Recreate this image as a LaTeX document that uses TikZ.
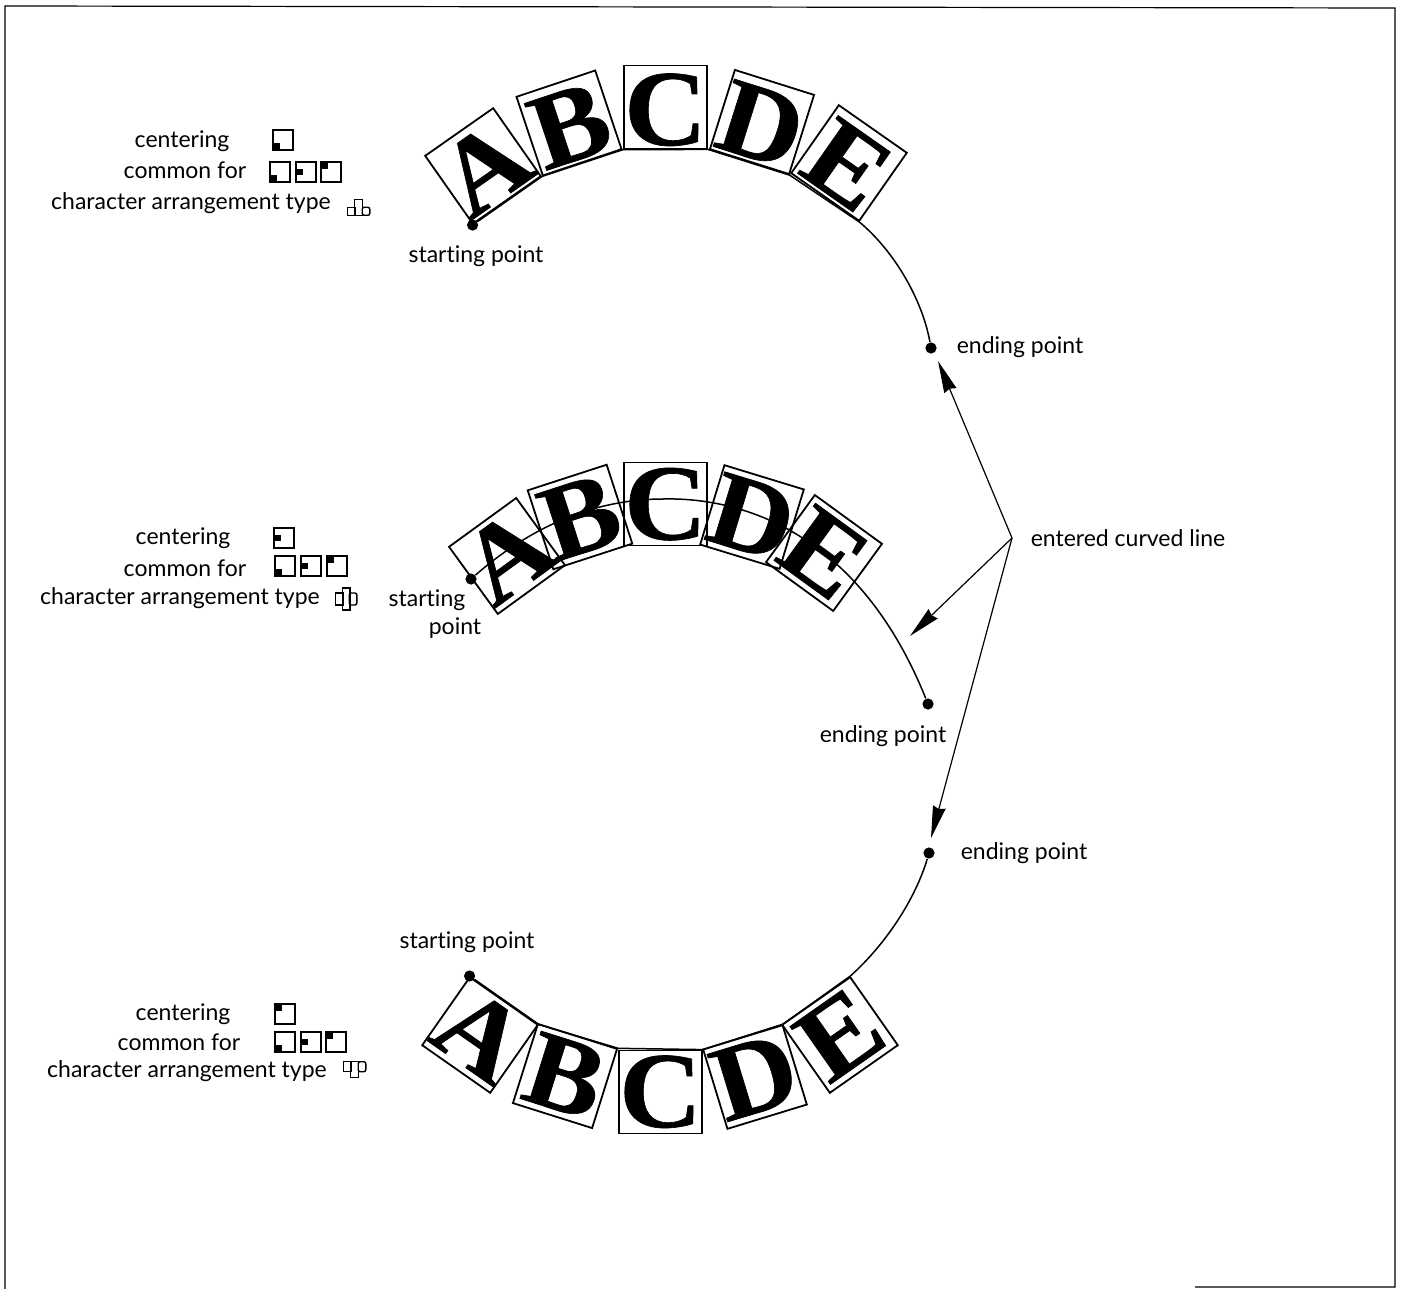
\documentclass[tikz,border=0pt]{standalone}
\usepackage{fontspec}
\setmainfont{Lato}[Ligatures=NoCommon]
\newfontfamily\lettfont{Liberation Serif}[BoldFeatures={FakeBold=0.6,FakeStretch=1.06}]
\usetikzlibrary{arrows.meta,positioning}
\newcommand{\letr}[2]{\raisebox{#1}[0pt][0pt]{#2}}
\tikzset{
  lettbox/.style={draw,line width=0.9pt,minimum size=41.5pt,inner sep=0pt,font=\lettfont\bfseries\fontsize{54}{54}\selectfont},
  lbl/.style={font=\fontsize{11.5}{13}\selectfont,anchor=base,inner sep=0pt},
  dotn/.style={circle,fill=black,inner sep=0pt,minimum size=5.6pt},
  curv/.style={line width=0.75pt},
  arr/.style={-{Stealth[length=16pt,width=6.5pt,inset=1pt]},line width=0.6pt},
  frm/.style={line width=0.6pt},
  mbox/.style={draw,line width=0.6pt,minimum size=10pt,inner sep=0pt},
  mrk/.style={fill=black,inner sep=0pt,minimum size=3.4pt},
  abox/.style={draw,line width=0.7pt,inner sep=0pt,minimum width=3.8pt},
}
\begin{document}
\begin{tikzpicture}[x=0.5pt,y=-0.5pt]
\useasboundingbox (0,0) rectangle (1402,1289);
% frame
\draw[frm] (5,1289) -- (5,6) -- (1395,8) -- (1395,1287) -- (1195,1287);
% top group
\foreach \nm/\lt/\px/\py/\ang in {a/A/483/166/35,b/B/569/123/18.5,c/C/665.5/107/0,d/D/762/122/-17.5,e/E/849/163/-35}
  \node[lettbox,rotate=\ang] (t\nm) at (\px,\py) {\letr{-19pt}{\lt}};
\node[dotn] (tstart) at (ta.south west) {};
\node[dotn] (tend) at (931,348) {};
\draw[curv] (tstart) -- (ta.south east) -- (tb.south east) -- (tc.south east) -- (td.south east) -- (te.south east) .. controls (893,250) and (922,298) .. (tend);
\node[lbl] (tstl) at (476,263) {starting point};
\node[lbl] (tenl) at (1020,353) {ending point};
% middle group
\foreach \nm/\lt/\px/\py/\ang in {a/A/507/556/36,b/B/580/517/18,c/C/665.5/504/0,d/D/752/517/-17,e/E/824/553/-36}
  \node[lettbox,rotate=\ang] (m\nm) at (\px,\py) {\letr{-17.7pt}{\lt}};
\node[dotn] (mstart) at (471,579) {};
\node[dotn] (mend) at (928,704) {};
\draw[curv] (mstart) .. controls (550,510) and (620,499) .. (663,499) .. controls (745,497) and (860,535) .. (mend);
\node[lbl] (mstl) at (427,606) {starting};
\node[lbl] (mstm) at (455,634) {point};
\node[lbl] (menl) at (883,742) {ending point};
% bottom group
\foreach \nm/\lt/\px/\py/\ang in {a/A/480/1035/-35,b/B/565/1076/-17.5,c/C/660.5/1092/0,d/D/755/1077/17,e/E/840/1035/35}
  \node[lettbox,rotate=\ang] (b\nm) at (\px,\py) {\letr{-17.5pt}{\lt}};
\node[dotn] (bstart) at (ba.north west) {};
\node[dotn] (bend) at (929,853) {};
\draw[curv] (bstart) -- (ba.north east) -- (bb.north east) -- (bc.north east) -- (bd.north east) -- (be.north east) .. controls (885,945) and (915,900) .. (bend);
\node[lbl] (bstl) at (467,948) {starting point};
\node[lbl] (benl) at (1024,859) {ending point};
% arrows
\node[lbl] (curl) at (1128,546) {entered curved line};
\coordinate (hub) at (1012,538);
\coordinate (tipa) at (938,361);
\coordinate (tipb) at (910,636);
\coordinate (tipc) at (931,838);
\draw[arr] (hub) -- (tipa);
\draw[arr] (hub) -- (tipb);
\draw[arr] (hub) -- (tipc);
% left legends
\node[lbl] (tl1) at (182,148) {centering};
\node[lbl] (tl2) at (185,179) {common for};
\node[lbl] (tl3) at (191,210) {character arrangement type};
\node[lbl] (ml1) at (183,544) {centering};
\node[lbl] (ml2) at (185,576) {common for};
\node[lbl] (ml3) at (180,604) {character arrangement type};
\node[lbl] (bl1) at (183,1020) {centering};
\node[lbl] (bl2) at (179,1050) {common for};
\node[lbl] (bl3) at (187,1077) {character arrangement type};
% small squares
\foreach \px/\py/\anc in {283/140/south west,280/172/south west,306/172/west,331/172/north west,
                          284/538/west,285/566/south west,311/566/west,337/566/north west,
                          285/1014/north west,285/1042/south west,311/1042/west,336/1042/north west}
  {\node[mbox] (sq) at (\px,\py) {};
   \node[mrk,anchor=\anc] at (sq.\anc) {};}
% arrangement signs
\node[abox,minimum height=4pt,anchor=south] (sa) at (351,216) {};
\node[abox,minimum height=8pt,anchor=south] (sb) at (358.5,216) {};
\node[abox,minimum height=4pt,anchor=south,rounded corners=1pt] (sc) at (366,216) {};
\node[abox,minimum height=6pt] (sd) at (339,599) {};
\node[abox,minimum height=11pt] (se) at (346,599) {};
\node[abox,minimum height=6pt,rounded corners=1pt] (sf) at (353,599) {};
\node[abox,minimum height=5pt,anchor=north] (sg) at (347,1061) {};
\node[abox,minimum height=8pt,anchor=north] (sh) at (354.5,1061) {};
\node[abox,minimum height=5pt,anchor=north,rounded corners=1pt] (si) at (362,1061) {};
\end{tikzpicture}
\end{document}
